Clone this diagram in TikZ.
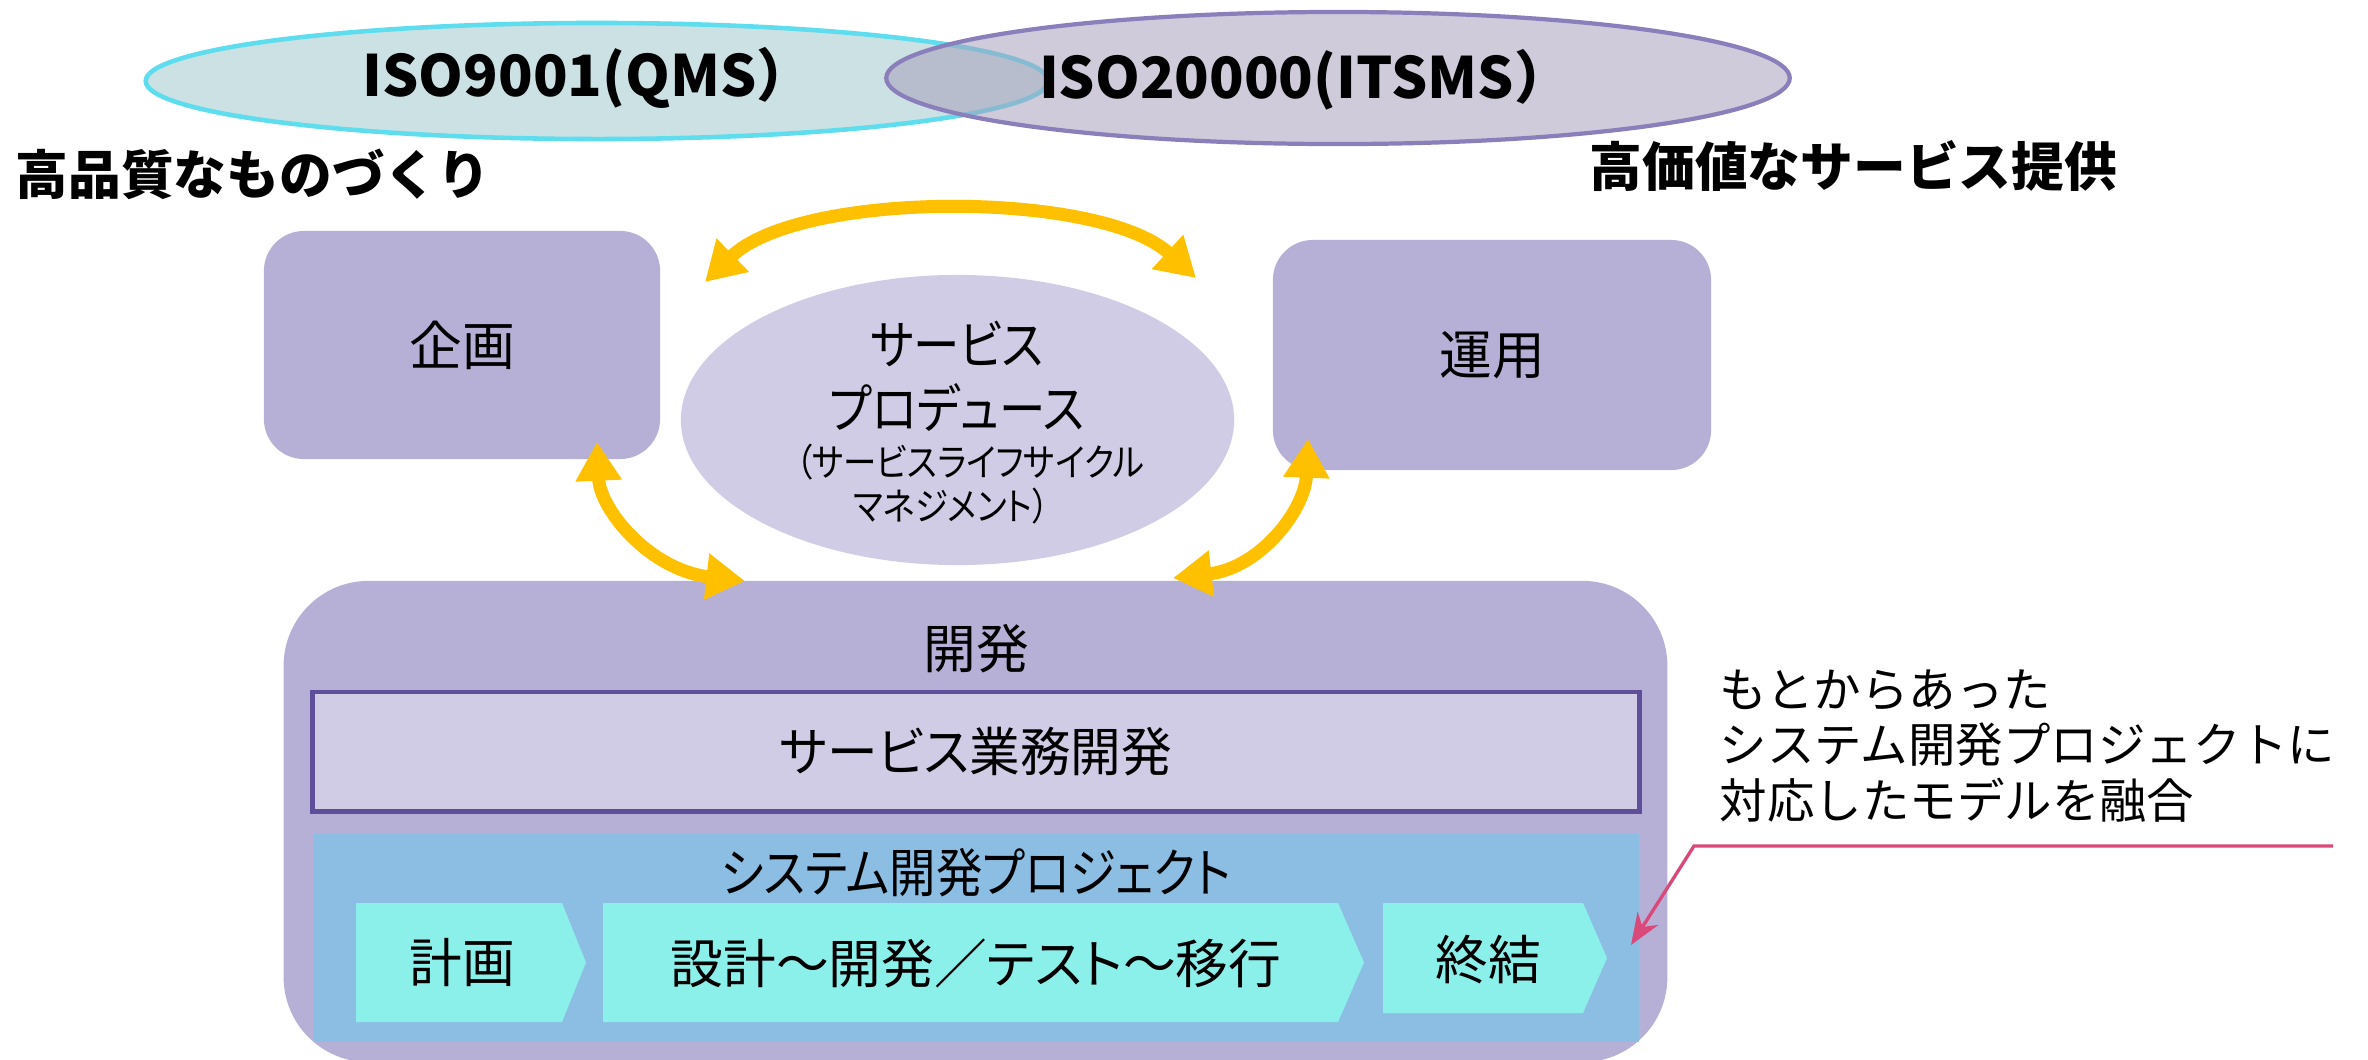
\documentclass[tikz,border=0pt]{standalone}
\usepackage{fontspec}
\setmainfont{Noto Sans CJK JP}
\newfontfamily\jpui{Noto Sans CJK JP}[RawFeature=+palt]
\newfontfamily\jpnarrow{Noto Sans CJK JP}[RawFeature=+palt, FakeStretch=0.88]
\newfontfamily\jpsemi{Noto Sans CJK JP}[RawFeature=+palt, FakeStretch=0.96]
\usetikzlibrary{arrows.meta,shapes.geometric}
\definecolor{boxpurple}{HTML}{B7B0D6}
\definecolor{lightpurple}{HTML}{D1CCE5}
\definecolor{darkpurple}{HTML}{5F4F9A}
\definecolor{sysblue}{HTML}{8CBEE3}
\definecolor{chevcyan}{HTML}{8CF0EA}
\definecolor{isoafill}{HTML}{CCE1E4}
\definecolor{isoadraw}{HTML}{5EDDEE}
\definecolor{isobfill}{RGB}{168,160,188}
\definecolor{isobdraw}{HTML}{8A7EBB}
\definecolor{arrowgold}{HTML}{FFC000}
\definecolor{pinkline}{HTML}{D94A7B}
\newcommand\fsz[2]{\fontsize{#1pt}{#2pt}\selectfont}
\tikzset{
  isotext/.style={inner sep=0, font=\fsz{16.2}{19}\bfseries},
  heading/.style={inner sep=0, font=\fsz{15}{18}\bfseries},
  rbox/.style={rectangle, rounded corners=0.4cm, fill=boxpurple, inner sep=0},
  boxtext/.style={inner sep=0, font=\jpui\fsz{15}{18}},
  narrowtext/.style={inner sep=0, font=\jpnarrow\fsz{15}{18}},
  smalltext/.style={inner sep=0, font=\jpnarrow\fsz{10.8}{13}},
  annot/.style={inner sep=0, font=\fsz{13.5}{15.9}, align=left},
  gold/.style={draw=arrowgold, line width=3.7pt,
    {Triangle[length=11pt,width=12.5pt]}-{Triangle[length=11pt,width=12.5pt]}},
  chev/.style={fill=chevcyan}
}
\begin{document}
\begin{tikzpicture}[x=0.01cm,y=-0.01cm]
\useasboundingbox (0,0) rectangle (2368,1060);
\clip (0,0) rectangle (2368,1060);

% ISO ellipses
\node[ellipse, fill=isoafill, draw=isoadraw, line width=1.3pt, minimum width=9.02cm, minimum height=1.16cm, inner sep=0] (iso9001) at (597,81) {};
\node[ellipse, fill=isobfill, fill opacity=0.55, draw=isobdraw, draw opacity=1, line width=1.2pt, minimum width=9.03cm, minimum height=1.32cm, inner sep=0] (iso20000) at (1338,78) {};
\node[isotext] (isoAtext) at (588,78) {ISO9001(QMS）};
\node[isotext] (isoBtext) at (1305,80) {ISO20000(ITSMS）};

\node[heading, anchor=west] (quality) at (15,174) {高品質なものづくり};
\node[heading, anchor=west] (value) at (1589,166) {高価値なサービス提供};

% top boxes
\node[rbox, minimum width=3.96cm, minimum height=2.28cm, font=\jpui\fsz{15}{18}] (kikaku) at (462,345) {企画};
\node[rbox, minimum width=4.38cm, minimum height=2.30cm, font=\jpui\fsz{15}{18}] (unyo) at (1492,355) {運用};

% service produce ellipse
\node[ellipse, fill=lightpurple, minimum width=5.53cm, minimum height=2.90cm, inner sep=0] (sp) at (957.5,420) {};
\node[narrowtext] (sp1) at (957,344) {サービス};
\node[narrowtext] (sp2) at (957,408) {プロデュース};
\node[smalltext] (sp3) at (970,462) {（サービスライフサイクル};
\node[smalltext] (sp4) at (951,506) {マネジメント）};

% development
\node[rectangle, rounded corners=0.85cm, fill=boxpurple, minimum width=13.83cm, minimum height=4.81cm, inner sep=0] (kaihatsu) at (975.5,821.5) {};
\node[boxtext] (kaihatsutext) at (976,649) {開発};
\node[rectangle, fill=lightpurple, draw=darkpurple, line width=1.4pt, minimum width=13.26cm, minimum height=1.19cm, inner sep=0, font=\jpsemi\fsz{15}{18}] (service) at (976,751.5) {サービス業務開発};
\node[rectangle, fill=sysblue, minimum width=13.26cm, minimum height=2.08cm, inner sep=0] (system) at (976,938) {};
\node[narrowtext] (systemtext) at (976,873) {システム開発プロジェクト};

% chevrons
\fill[chev] (356,903) -- (562,903) -- (586,962.5) -- (562,1022) -- (356,1022) -- cycle;
\fill[chev] (603,903) -- (1338,903) -- (1364,962.5) -- (1338,1022) -- (603,1022) -- cycle;
\fill[chev] (1383,903) -- (1583,903) -- (1607,958) -- (1583,1013) -- (1383,1013) -- cycle;
\node[boxtext] (plan) at (462,963) {計画};
\node[boxtext] (design) at (976,963) {設計～開発／テスト～移行};
\node[boxtext] (close) at (1488,960) {終結};

% yellow arrows
\coordinate (topL) at (705,282);
\coordinate (topR) at (1196,278);
\coordinate (leftT) at (597,442);
\coordinate (leftB) at (745,581);
\coordinate (rightT) at (1308,439);
\coordinate (rightB) at (1173,578);
\draw[gold] (topL) .. controls (800,190) and (1100,190) .. (topR);
\draw[gold] (leftT) .. controls (600,510) and (650,570) .. (leftB);
\draw[gold] (rightT) .. controls (1305,510) and (1260,568) .. (rightB);

% annotation
\node[annot, anchor=west] (note) at (1719,746) {もとからあった\\システム開発プロジェクトに\\対応したモデルを融合};
\coordinate (pinkstart) at (2333,846);
\coordinate (pinkbend) at (1694,846);
\coordinate (pinkend) at (1631,945);
\draw[pinkline, line width=0.95pt, -{Stealth[length=9pt,width=7pt]}] (pinkstart) -- (pinkbend) -- (pinkend);
\end{tikzpicture}
\end{document}
